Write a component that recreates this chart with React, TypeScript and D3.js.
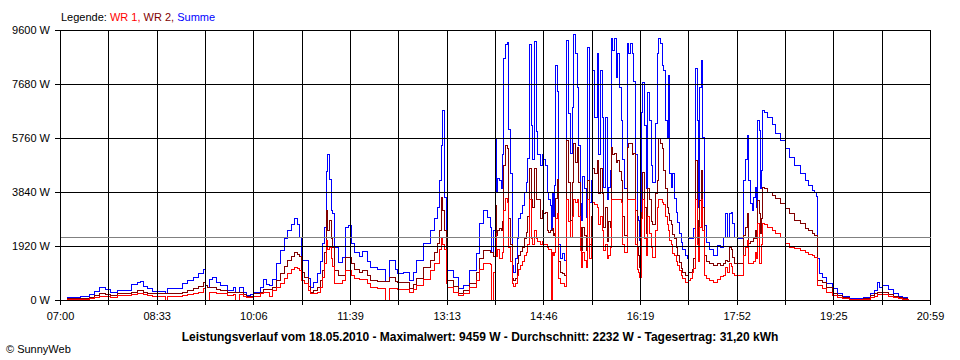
import React from 'react';
import * as d3 from 'd3';

// minutes after 07:00
const minutes = [
  4,7,14,19,24,28,33,38,43,48,
  55,59,64,69,74,77,80,84,89,96,
  101,103,108,113,118,123,128,133,138,140,
  142,144,147,151,154,161,167,169,173,177,
  180,183,186,193,196,199,202,205,209,212,
  216,219,223,226,229,231,233,236,239,241,
  244,248,251,253,255,257,258,260,262,263,
  265,268,272,275,278,281,284,289,292,296,
  299,306,311,314,318,323,325,331,337,341,
  344,350,357,361,364,366,368,369,371,373,
  374,379,384,389,395,402,405,408,412,415,
  416,418,420,421,422,424,426,427,428,430,
  432,433,434,436,437,439,441,442,444,446,
  448,450,451,453,455,456,458,460,461,463,
  465,466,468,470,471,473,474,475,476,477,
  478,480,481,483,485,487,489,490,492,494,
  495,497,499,500,502,503,504,506,508,509,
  511,513,514,516,518,519,521,523,524,526,
  528,529,531,532,533,535,537,538,540,542,
  543,545,547,548,550,552,553,555,557,558,
  559,561,562,564,566,567,569,571,572,574,
  576,577,579,581,582,584,586,587,588,590,
  591,593,595,596,598,600,601,603,605,606,
  608,610,611,613,615,616,617,619,620,622,
  624,627,630,634,637,640,642,644,646,648,
  649,651,654,658,659,661,663,664,666,668,
  669,671,672,673,675,676,677,678,680,683,
  687,690,695,700,704,709,714,719,722,726,
  728,730,731,733,736,740,745,750,755,762,
  769,775,782,786,789,791,794,799,804,809,
  813,818,819,
];

const summe = [
  0,120,120,150,130,210,330,450,380,300,
  355,360,355,560,650,690,500,415,330,330,
  240,410,410,410,590,700,830,950,1090,550,
  480,750,830,650,530,355,475,300,475,300,
  165,200,300,475,750,560,520,750,1300,1780,
  2200,2490,2700,2900,2700,2250,1420,1420,800,475,
  650,950,1400,2020,2600,4600,5200,4300,3200,3090,
  1900,1360,1540,2600,2680,2020,1700,1560,1750,1400,
  1190,1100,1100,680,1420,1100,950,1000,710,1000,
  1420,2020,2490,2900,3320,4270,5500,6760,3670,2500,
  1070,830,415,530,1070,1660,2730,3200,2960,2610,
  1700,2500,5760,3850,4330,4270,4000,5200,8600,9100,
  9190,6070,4500,1240,1010,1490,2200,2900,3100,3380,
  3850,4200,5040,9100,6220,5000,9200,6000,5200,4800,
  5200,5000,4800,3850,3600,3380,2500,3850,3000,4090,
  8360,7420,2000,1500,1660,1420,9240,6640,5220,6870,
  9459,8770,7580,5500,3440,2840,4400,4000,2960,9000,
  3500,4270,8180,6500,8770,5200,8180,6520,4030,6520,
  3600,4030,4620,9300,8890,9300,7940,8770,7580,6400,
  5000,4000,9130,8770,9130,8770,7800,5200,3000,2840,
  2130,6700,7760,6220,4000,7400,6400,4800,4200,6300,
  8770,9300,9130,8360,8180,6400,5800,8000,4500,4030,
  4500,3620,3140,2790,2400,2070,1800,1600,1490,2200,
  2200,2200,2560,8250,6400,3320,7580,8530,5800,2670,
  2070,1800,1600,1960,1900,2250,3090,2250,3090,3130,
  2730,2250,2190,2190,4270,5000,5870,4270,3440,3200,
  3670,4030,3320,6400,6050,4000,4620,6760,6700,6520,
  6250,5930,5690,5390,5100,4800,4500,4270,4090,3910,
  3850,3700,1500,950,830,590,415,240,150,60,
  60,120,240,350,650,470,530,380,240,150,
  90,50,0,
];

const wr2 = [
  0,60,60,70,60,100,170,240,210,190,
  240,240,240,300,355,350,300,260,240,240,
  240,250,250,260,300,360,415,500,650,550,
  480,450,480,400,360,300,300,300,300,200,
  140,160,240,300,400,380,380,480,700,950,
  1200,1420,1580,1720,1650,1550,1000,830,500,300,
  350,470,700,1070,1700,3200,2500,2840,2200,1900,
  1070,900,900,1540,1540,1300,1100,1000,1070,900,
  710,680,680,680,830,680,650,640,415,560,
  780,1190,1420,1700,2020,2500,3670,3200,2500,1500,
  710,500,240,350,600,1000,1500,1780,1780,1700,
  1700,1550,3380,2300,2500,2560,2500,2800,4800,5510,
  5400,2900,2000,770,700,800,1300,1600,1750,1900,
  2200,2430,3000,4700,3600,3300,4700,3600,3600,2900,
  3200,3100,3140,2500,2430,2500,2500,2560,2300,2400,
  3620,4300,1400,1000,950,900,5690,4200,2840,4200,
  5600,4900,5450,4200,2600,1780,2600,2300,1780,4270,
  2000,3000,4700,4500,4980,3800,4700,3800,2600,3300,
  2100,2800,2600,5450,5200,5210,4900,4980,4600,4270,
  3000,2300,5450,5600,5600,5200,5210,3200,1900,1600,
  1190,3140,4560,3300,2400,4000,3600,2800,2700,3800,
  4270,5750,5570,5400,4620,4000,3300,3100,2840,2700,
  2330,2200,1900,1600,1350,1140,1000,890,900,1000,
  1000,1100,1490,4980,2840,2000,3560,4620,3300,1600,
  1400,1300,1240,1300,1250,1300,1420,1400,1900,1800,
  1540,1300,1300,1300,2300,2610,3080,2020,2100,2100,
  2200,2500,2200,3560,3080,2400,2900,4030,4000,3850,
  3720,3610,3440,3260,3080,2840,2730,2550,2490,2370,
  2310,2310,710,710,630,470,240,180,100,30,
  40,60,180,250,300,300,300,200,150,90,
  60,30,0,
];

const wr1 = [
  0,30,30,40,30,60,100,140,130,120,
  180,180,180,200,240,240,200,170,140,140,
  0,140,140,150,180,210,240,300,415,0,
  0,300,300,250,240,180,200,0,200,130,
  100,100,160,240,280,270,140,350,450,590,
  800,950,1100,1190,1150,1070,700,590,350,240,
  260,300,470,830,1300,2130,1800,1900,1500,1200,
  590,590,700,1070,1050,900,800,760,760,600,
  470,420,420,0,420,420,400,380,300,380,
  550,760,1070,1300,1300,1800,2250,2000,1800,600,
  470,300,180,250,470,710,1100,1300,1300,1270,
  0,1000,2400,1550,1800,1490,1500,1700,3200,3620,
  3500,1900,1400,600,500,600,900,1100,1250,1400,
  1600,1700,2000,3600,2200,2000,2500,2200,2100,2000,
  2100,2000,2000,1900,1800,1800,0,1700,1600,1700,
  2900,3100,800,600,600,500,3600,2800,2250,3000,
  3600,3500,3600,3000,1780,1190,1700,1420,1190,3600,
  1500,2200,3500,3400,3300,2700,3000,2500,1780,2000,
  1500,1600,1900,3600,3600,3600,3600,3600,3600,3500,
  2000,1700,3600,3600,3600,3600,3600,2000,1100,1000,
  830,2900,3600,2200,1600,3000,2400,1900,1540,2500,
  3320,3600,3600,3500,3400,3000,2700,2500,2130,2000,
  1660,1600,1400,1250,1050,890,800,650,630,700,
  800,1000,1150,3600,2000,1400,2600,3600,2500,900,
  800,700,640,750,850,900,1190,1000,1300,1200,
  950,890,890,890,1600,1900,2130,1300,1300,1300,
  1400,1700,1500,2730,1300,1310,2000,2730,2700,2610,
  2480,2370,2250,2020,1900,1840,1780,1720,1650,1600,
  1540,1540,530,530,420,300,180,120,70,20,
  20,40,120,150,220,220,200,150,100,60,
  40,20,0,
];

const yTicks = [0, 1920, 3840, 5760, 7680, 9600];
const xLabels = ['07:00', '08:33', '10:06', '11:39', '13:13', '14:46', '16:19', '17:52', '19:25', '20:59'];
const averageW = 2232;
const legendParts = [
  { text: 'Legende: ', color: '#000000' },
  { text: 'WR 1, ', color: '#ff0000' },
  { text: 'WR 2, ', color: '#800000' },
  { text: 'Summe', color: '#0000ff' },
];
const title = 'Leistungsverlauf vom 18.05.2010 - Maximalwert: 9459 W - Durchschnitt: 2232 W - Tagesertrag: 31,20 kWh';
const footer = '\u00A9 SunnyWeb';

const FONT = '"Liberation Sans", Arial, sans-serif';

export default function App() {
  const width = 960;
  const height = 360;
  const x = d3.scaleLinear().domain([0, 840]).range([60.5, 930.5]);
  const y = d3.scaleLinear().domain([0, 9600]).range([300.5, 30.5]);
  const xTicks = d3.range(19).map((i) => (i * 840) / 18);
  const n = Math.min(minutes.length, summe.length, wr1.length, wr2.length);

  const makePath = (vals: number[]) =>
    d3
      .line<number>()
      .x((_, i) => x(minutes[i]))
      .y((v) => y(v))
      .curve(d3.curveStepAfter)(vals.slice(0, n)) || '';

  const series = [
    { vals: summe, color: '#0000ff' },
    { vals: wr2, color: '#800000' },
    { vals: wr1, color: '#ff0000' },
  ];

  return (
    <svg
      width={width}
      height={height}
      style={{ position: 'absolute', left: 0, top: 0, background: '#ffffff' }}
      fontFamily={FONT}
    >
      <rect x={0} y={0} width={width} height={height} fill="#ffffff" />
      <text x={61} y={20.5} fontSize={11}>
        {legendParts.map((p, i) => (
          <tspan key={i} fill={p.color}>
            {p.text}
          </tspan>
        ))}
      </text>

      {series.map((s, i) => (
        <path
          key={i}
          d={makePath(s.vals)}
          fill="none"
          stroke={s.color}
          strokeWidth={1}
          shapeRendering="crispEdges"
        />
      ))}

      {yTicks.map((t) => (
        <g key={t}>
          <line
            x1={55}
            x2={x(840)}
            y1={y(t)}
            y2={y(t)}
            stroke="#000"
            strokeWidth={1}
            shapeRendering="crispEdges"
          />
          <text x={50} y={y(t)} dy="0.35em" textAnchor="end" fontSize={11} fill="#000">
            {`${t} W`}
          </text>
        </g>
      ))}
      {xTicks.map((t, i) => (
        <g key={i}>
          <line
            x1={x(t)}
            x2={x(t)}
            y1={y(9600)}
            y2={305}
            stroke="#000"
            strokeWidth={1}
            shapeRendering="crispEdges"
          />
          {i % 2 === 0 && (
            <text x={x(t)} y={320} textAnchor="middle" fontSize={11} fill="#000">
              {xLabels[i / 2]}
            </text>
          )}
        </g>
      ))}
      <line
        x1={x(0)}
        x2={x(840)}
        y1={Math.round(y(averageW) - 0.5) + 0.5}
        y2={Math.round(y(averageW) - 0.5) + 0.5}
        stroke="#808080"
        strokeWidth={1}
        shapeRendering="crispEdges"
      />

      <text x={480} y={341} textAnchor="middle" fontSize={12} fontWeight="bold" fill="#000">
        {title}
      </text>
      <text x={6} y={353} fontSize={11} fill="#000">
        {footer}
      </text>
    </svg>
  );
}
